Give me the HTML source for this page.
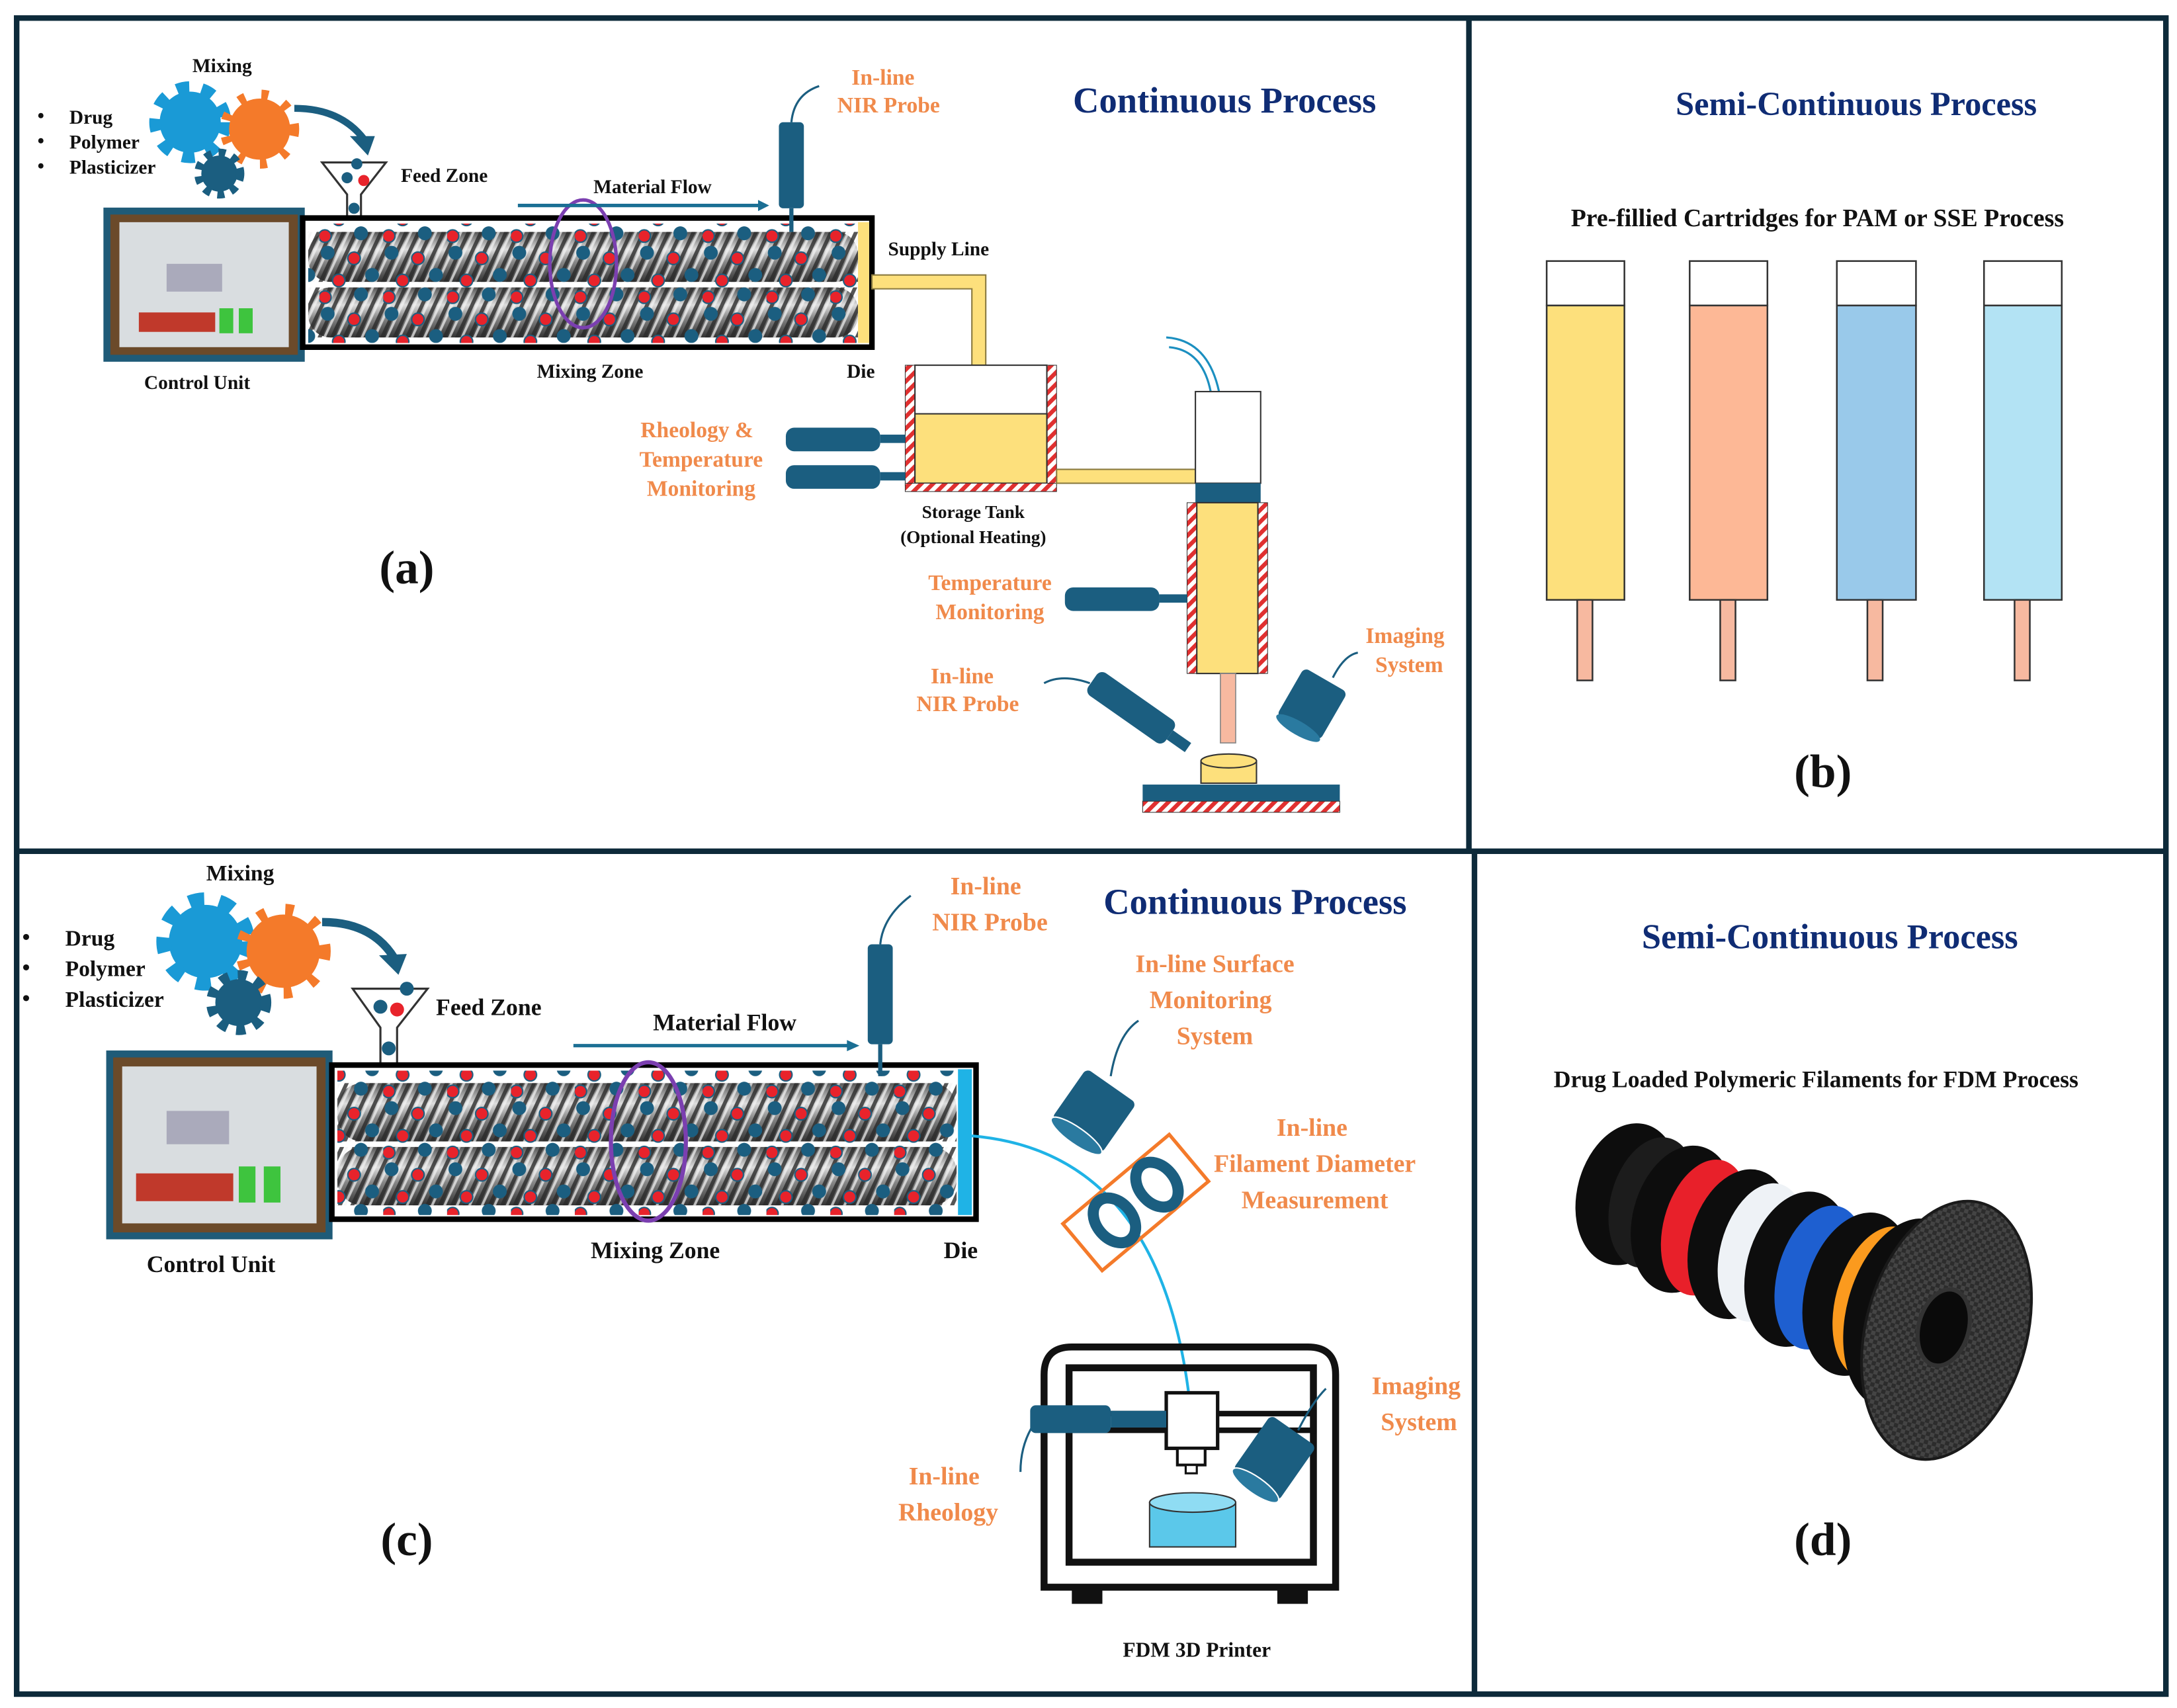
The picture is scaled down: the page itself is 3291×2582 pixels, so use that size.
<!DOCTYPE html>
<html><head><meta charset="utf-8"><style>
html,body{margin:0;padding:0;background:#fff;}
svg{display:block;}
text{font-family:"Liberation Serif",serif;font-weight:bold;}
.o{fill:#f08a4b;font-size:16px;text-anchor:middle;}
.k{fill:#111;font-size:14px;text-anchor:middle;}
.t{fill:#0f2c74;font-size:26px;text-anchor:middle;}
.L{fill:#111;font-size:34px;text-anchor:middle;}
</style></head><body>
<svg width="3291" height="2582" viewBox="0 0 1568 1230" preserveAspectRatio="none" xmlns="http://www.w3.org/2000/svg">
<defs>
<linearGradient id="shaft" x1="0" y1="0" x2="0" y2="1">
<stop offset="0" stop-color="#555"/><stop offset="0.35" stop-color="#ddd"/><stop offset="0.6" stop-color="#888"/><stop offset="1" stop-color="#333"/></linearGradient>
<pattern id="thread" width="9" height="40" patternUnits="userSpaceOnUse" patternTransform="skewX(-25)">
<rect width="9" height="40" fill="none"/><rect x="0" width="3" height="40" fill="#2b2b2b" opacity="0.8"/><rect x="4" width="2" height="40" fill="#f4f4f4" opacity="0.7"/></pattern>
<pattern id="dots" width="46" height="44" patternUnits="userSpaceOnUse">
<circle cx="6" cy="6" r="5" fill="#1b5e80"/><circle cx="25" cy="10" r="4.5" fill="#e8232b" stroke="#1b5e80" stroke-width="1"/>
<circle cx="38" cy="22" r="5" fill="#1b5e80"/><circle cx="14" cy="26" r="4.5" fill="#e8232b" stroke="#1b5e80" stroke-width="1"/>
<circle cx="30" cy="36" r="5" fill="#1b5e80"/><circle cx="4" cy="38" r="4.5" fill="#e8232b" stroke="#1b5e80" stroke-width="1"/></pattern>
<pattern id="hatch" width="6" height="6" patternUnits="userSpaceOnUse" patternTransform="rotate(45)">
<rect width="6" height="6" fill="#fff"/><rect width="3" height="6" fill="#e03030"/></pattern>
<pattern id="carbon" width="6" height="6" patternUnits="userSpaceOnUse">
<rect width="6" height="6" fill="#2c2c2c"/><rect width="3" height="3" fill="#444"/><rect x="3" y="3" width="3" height="3" fill="#444"/></pattern>
<g id="gearB"><circle r="22" fill="#1a9ad6"/><circle r="25" fill="none" stroke="#1a9ad6" stroke-width="9" stroke-dasharray="9 9"/></g>
<g id="gearO"><circle r="22" fill="#f47a2a"/><circle r="25" fill="none" stroke="#f47a2a" stroke-width="7" stroke-dasharray="5 12"/></g>
<g id="gearD"><circle r="13" fill="#1b5e80"/><circle r="15" fill="none" stroke="#1b5e80" stroke-width="6" stroke-dasharray="5 5"/></g>
</defs>
<rect width="1568" height="1230" fill="#fff"/>

<g fill="none" stroke="#0d2a3a" stroke-width="4">
<rect x="12" y="13" width="1548" height="1207"/>
<line x1="12" y1="613" x2="1560" y2="613"/>
<line x1="1058" y1="13" x2="1058" y2="613"/>
<line x1="1062" y1="613" x2="1062" y2="1220"/>
</g>

<!-- ============ PANEL A ============ -->
<text class="k" x="160" y="52">Mixing</text>
<g class="k" style="text-anchor:start;font-size:14px"><text x="27" y="88">•</text><text x="50" y="89">Drug</text><text x="27" y="106">•</text><text x="50" y="107">Polymer</text><text x="27" y="124">•</text><text x="50" y="125">Plasticizer</text></g>
<use href="#gearB" x="137" y="88"/><use href="#gearO" x="187" y="93"/><use href="#gearD" x="158" y="125"/>
<path d="M212 78 Q245 78 262 100" fill="none" stroke="#1b5e80" stroke-width="5"/><polygon points="252,98 270,98 265,112" fill="#1b5e80"/>
<path d="M232 117 L278 117 L260 140 L260 162 L250 162 L250 140 Z" fill="#fff" stroke="#333" stroke-width="1.5"/>
<circle cx="257" cy="118" r="4" fill="#1b5e80"/><circle cx="250" cy="128" r="4" fill="#1b5e80"/><circle cx="262" cy="130" r="4" fill="#e8232b"/><circle cx="255" cy="150" r="4" fill="#1b5e80"/>
<text class="k" x="320" y="131">Feed Zone</text>
<rect x="77" y="152" width="140" height="106" fill="#6b4a2a" stroke="#1f5b78" stroke-width="5"/>
<rect x="86" y="160" width="122" height="90" fill="#d9dde0"/>
<rect x="100" y="225" width="55" height="14" fill="#c0392b"/><rect x="158" y="222" width="10" height="18" fill="#3ec43e"/><rect x="172" y="222" width="10" height="18" fill="#3ec43e"/>
<rect x="120" y="190" width="40" height="20" fill="#aab"/>
<text class="k" x="142" y="280">Control Unit</text>
<rect x="218" y="157" width="410" height="93" fill="#fff" stroke="#000" stroke-width="4"/>
<rect x="222" y="167" width="396" height="36" rx="16" fill="url(#shaft)"/><rect x="222" y="167" width="396" height="36" fill="url(#thread)"/>
<rect x="222" y="207" width="396" height="36" rx="16" fill="url(#shaft)"/><rect x="222" y="207" width="396" height="36" fill="url(#thread)"/>
<rect x="222" y="161" width="396" height="86" fill="url(#dots)"/>
<rect x="618" y="160" width="8" height="87" fill="#fde07c"/>
<ellipse cx="420" cy="190" rx="24" ry="46" fill="none" stroke="#7b3fb0" stroke-width="2.5"/>
<text class="k" x="470" y="139">Material Flow</text>
<line x1="373" y1="148" x2="548" y2="148" stroke="#1b6f94" stroke-width="2.5"/><polygon points="546,144 554,148 546,152" fill="#1b6f94"/>
<rect x="561" y="88" width="18" height="62" rx="3" fill="#1b5e80"/><line x1="570" y1="150" x2="570" y2="167" stroke="#1b5e80" stroke-width="3"/>
<path d="M570 88 Q572 68 590 62" fill="none" stroke="#1b5e80" stroke-width="1.5"/>
<text class="o" x="636" y="61">In-line</text><text class="o" x="640" y="81">NIR Probe</text>
<text class="t" x="882" y="81">Continuous Process</text>
<text class="k" x="425" y="272">Mixing Zone</text><text class="k" x="620" y="272">Die</text><text class="k" x="676" y="184">Supply Line</text>
<path d="M628 198 H710 V265 H700 V208 H628 Z" fill="#fde07c" stroke="#8a7a40" stroke-width="1"/>
<rect x="652" y="263" width="7" height="87" fill="url(#hatch)" stroke="#333" stroke-width="0.5"/>
<rect x="754" y="263" width="7" height="87" fill="url(#hatch)" stroke="#333" stroke-width="0.5"/>
<rect x="659" y="263" width="95" height="85" fill="#fff" stroke="#333" stroke-width="1"/>
<rect x="659" y="298" width="95" height="50" fill="#fde07c" stroke="#333" stroke-width="1"/>
<rect x="652" y="348" width="109" height="6" fill="url(#hatch)" stroke="#333" stroke-width="0.5"/>
<rect x="566" y="308" width="68" height="17" rx="6" fill="#1b5e80"/><rect x="634" y="313" width="18" height="6" fill="#1b5e80"/>
<rect x="566" y="335" width="68" height="17" rx="6" fill="#1b5e80"/><rect x="634" y="340" width="18" height="6" fill="#1b5e80"/>
<text class="o" x="502" y="315">Rheology &amp;</text><text class="o" x="505" y="336">Temperature</text><text class="o" x="505" y="357">Monitoring</text>
<text class="k" x="701" y="373" style="font-size:13px">Storage Tank</text><text class="k" x="701" y="391" style="font-size:13px">(Optional Heating)</text>
<rect x="761" y="338" width="100" height="10" fill="#fde07c" stroke="#8a7a40" stroke-width="1"/>
<path d="M840 243 Q870 245 878 282 M842 250 Q866 252 872 282" fill="none" stroke="#1b8fc0" stroke-width="1.5"/>
<rect x="861" y="282" width="47" height="66" fill="#fff" stroke="#333" stroke-width="1"/>
<rect x="861" y="348" width="47" height="14" fill="#1b5e80"/>
<rect x="855" y="362" width="7" height="123" fill="url(#hatch)" stroke="#333" stroke-width="0.5"/>
<rect x="906" y="362" width="7" height="123" fill="url(#hatch)" stroke="#333" stroke-width="0.5"/>
<rect x="862" y="362" width="44" height="123" fill="#fde07c" stroke="#333" stroke-width="1"/>
<rect x="879" y="485" width="11" height="50" fill="#f7b9a0" stroke="#888" stroke-width="0.8"/>
<rect x="767" y="423" width="68" height="17" rx="6" fill="#1b5e80"/><rect x="835" y="428" width="20" height="6" fill="#1b5e80"/>
<text class="o" x="713" y="425">Temperature</text><text class="o" x="713" y="446">Monitoring</text>
<g transform="translate(818,512) rotate(35)"><rect x="-38" y="-10" width="68" height="20" rx="5" fill="#1b5e80"/><rect x="30" y="-4" width="16" height="8" fill="#1b5e80"/></g>
<path d="M785 492 Q765 485 752 492" fill="none" stroke="#1b5e80" stroke-width="1.5"/>
<text class="o" x="693" y="492">In-line</text><text class="o" x="697" y="512">NIR Probe</text>
<g transform="translate(945,507) rotate(-60)"><rect x="-20" y="-18" width="40" height="36" rx="4" fill="#1b5e80"/><ellipse cx="-20" cy="0" rx="5" ry="18" fill="#2a7aa0"/></g>
<path d="M960 488 Q968 472 978 470" fill="none" stroke="#1b5e80" stroke-width="1.5"/>
<text class="o" x="1012" y="463">Imaging</text><text class="o" x="1015" y="484">System</text>
<rect x="865" y="548" width="40" height="16" fill="#fde07c" stroke="#333" stroke-width="1"/><ellipse cx="885" cy="548" rx="20" ry="5" fill="#fde07c" stroke="#333" stroke-width="1"/>
<rect x="823" y="565" width="142" height="12" fill="#1b5e80"/>
<rect x="823" y="577" width="142" height="8" fill="url(#hatch)" stroke="#333" stroke-width="0.5"/>
<text class="L" x="293" y="420">(a)</text>

<!-- ============ PANEL B ============ -->
<text class="t" x="1337" y="83" style="font-size:24px">Semi-Continuous Process</text>
<text class="k" x="1309" y="163" style="font-size:18px">Pre-fillied Cartridges for PAM or SSE Process</text>
<g stroke="#333" stroke-width="1.2">
<rect x="1114" y="188" width="56" height="32" fill="#fff"/><rect x="1114" y="220" width="56" height="212" fill="#fde07c"/><rect x="1136" y="432" width="11" height="58" fill="#f7b9a0"/>
<rect x="1217" y="188" width="56" height="32" fill="#fff"/><rect x="1217" y="220" width="56" height="212" fill="#fdb896"/><rect x="1239" y="432" width="11" height="58" fill="#f7b9a0"/>
<rect x="1323" y="188" width="57" height="32" fill="#fff"/><rect x="1323" y="220" width="57" height="212" fill="#99c9ea"/><rect x="1345" y="432" width="11" height="58" fill="#f7b9a0"/>
<rect x="1429" y="188" width="56" height="32" fill="#fff"/><rect x="1429" y="220" width="56" height="212" fill="#b3e3f4"/><rect x="1451" y="432" width="11" height="58" fill="#f7b9a0"/>
</g>
<text class="L" x="1313" y="567">(b)</text>

<!-- ============ PANEL C ============ -->
<text class="k" x="173" y="634" style="font-size:16px">Mixing</text>
<g class="k" style="text-anchor:start;font-size:16px"><text x="16" y="680">•</text><text x="47" y="681">Drug</text><text x="16" y="702">•</text><text x="47" y="703">Polymer</text><text x="16" y="724">•</text><text x="47" y="725">Plasticizer</text></g>
<use href="#gearB" transform="translate(148,678) scale(1.2)"/><use href="#gearO" transform="translate(204,685) scale(1.2)"/><use href="#gearD" transform="translate(172,722) scale(1.3)"/>
<path d="M232 664 Q268 664 284 690" fill="none" stroke="#1b5e80" stroke-width="6"/><polygon points="273,688 293,687 287,702" fill="#1b5e80"/>
<path d="M254 712 L308 712 L286 740 L286 768 L274 768 L274 740 Z" fill="#fff" stroke="#333" stroke-width="1.5"/>
<circle cx="293" cy="712" r="5" fill="#1b5e80"/><circle cx="274" cy="725" r="5" fill="#1b5e80"/><circle cx="286" cy="727" r="5" fill="#e8232b"/><circle cx="280" cy="755" r="5" fill="#1b5e80"/>
<text class="k" x="352" y="731" style="font-size:17px">Feed Zone</text>
<rect x="79" y="759" width="158" height="131" fill="#6b4a2a" stroke="#1f5b78" stroke-width="5"/>
<rect x="88" y="768" width="140" height="113" fill="#d9dde0"/>
<rect x="98" y="845" width="70" height="20" fill="#c0392b"/><rect x="172" y="840" width="12" height="26" fill="#3ec43e"/><rect x="190" y="840" width="12" height="26" fill="#3ec43e"/>
<rect x="120" y="800" width="45" height="24" fill="#aab"/>
<text class="k" x="152" y="916" style="font-size:17px">Control Unit</text>
<rect x="239" y="767" width="464" height="111" fill="#fff" stroke="#000" stroke-width="4"/>
<rect x="243" y="780" width="446" height="42" rx="18" fill="url(#shaft)"/><rect x="243" y="780" width="446" height="42" fill="url(#thread)"/>
<rect x="243" y="826" width="446" height="42" rx="18" fill="url(#shaft)"/><rect x="243" y="826" width="446" height="42" fill="url(#thread)"/>
<rect x="243" y="771" width="446" height="104" fill="url(#dots)"/>
<rect x="690" y="770" width="10" height="105" fill="#1fb3e6"/>
<ellipse cx="467" cy="822" rx="27" ry="57" fill="none" stroke="#7b3fb0" stroke-width="3"/>
<text class="k" x="522" y="742" style="font-size:17px">Material Flow</text>
<line x1="413" y1="753" x2="612" y2="753" stroke="#1b6f94" stroke-width="2.5"/><polygon points="610,749 619,753 610,757" fill="#1b6f94"/>
<rect x="625" y="680" width="18" height="72" rx="3" fill="#1b5e80"/><line x1="634" y1="752" x2="634" y2="775" stroke="#1b5e80" stroke-width="3"/>
<path d="M634 680 Q636 660 656 645" fill="none" stroke="#1b5e80" stroke-width="1.5"/>
<text class="o" x="710" y="644" style="font-size:18px">In-line</text><text class="o" x="713" y="670" style="font-size:18px">NIR Probe</text>
<text class="t" x="904" y="658">Continuous Process</text>
<text class="k" x="472" y="906" style="font-size:17px">Mixing Zone</text><text class="k" x="692" y="906" style="font-size:17px">Die</text>
<g class="o" style="font-size:18px"><text x="875" y="700">In-line Surface</text><text x="872" y="726">Monitoring</text><text x="875" y="752">System</text>
<text x="945" y="818">In-line</text><text x="947" y="844">Filament Diameter</text><text x="947" y="870">Measurement</text>
<text x="680" y="1069">In-line</text><text x="683" y="1095">Rheology</text>
<text x="1020" y="1004">Imaging</text><text x="1022" y="1030">System</text></g>
<g transform="translate(788,800) rotate(-55)"><rect x="-22" y="-22" width="44" height="44" rx="4" fill="#1b5e80"/><ellipse cx="-22" cy="0" rx="6" ry="22" fill="#2a7aa0" stroke="#fff" stroke-width="1"/></g>
<path d="M800 775 Q805 745 820 735" fill="none" stroke="#1b5e80" stroke-width="1.5"/>
<path d="M700 818 Q840 830 858 1020" fill="none" stroke="#1fb3e6" stroke-width="2"/>
<g transform="translate(818,866) rotate(-40)"><rect x="-50" y="-22" width="100" height="44" fill="none" stroke="#f47a2a" stroke-width="2.5"/>
<ellipse cx="-20" cy="0" rx="13" ry="18" fill="none" stroke="#1b5e80" stroke-width="8"/><ellipse cx="20" cy="0" rx="13" ry="18" fill="none" stroke="#1b5e80" stroke-width="8"/></g>
<path d="M752 1143 V990 Q752 970 772 970 H942 Q962 970 962 990 V1143 Z" fill="none" stroke="#111" stroke-width="5"/>
<rect x="770" y="985" width="176" height="140" fill="none" stroke="#111" stroke-width="5"/>
<rect x="772" y="1145" width="22" height="10" fill="#111"/><rect x="920" y="1145" width="22" height="10" fill="#111"/>
<rect x="770" y="1018" width="176" height="12" fill="none" stroke="#111" stroke-width="4"/>
<rect x="840" y="1003" width="37" height="40" fill="#fff" stroke="#111" stroke-width="2.5"/>
<rect x="848" y="1043" width="20" height="12" fill="#fff" stroke="#111" stroke-width="2"/><rect x="854" y="1055" width="8" height="6" fill="#fff" stroke="#111" stroke-width="1.5"/>
<rect x="742" y="1012" width="58" height="20" rx="4" fill="#1b5e80"/><rect x="800" y="1016" width="40" height="12" fill="#1b5e80"/>
<path d="M745 1025 Q735 1040 735 1060" fill="none" stroke="#1b5e80" stroke-width="1.5"/>
<g transform="translate(918,1050) rotate(-55)"><rect x="-24" y="-20" width="48" height="40" rx="4" fill="#1b5e80"/><ellipse cx="-24" cy="0" rx="6" ry="20" fill="#2a7aa0" stroke="#fff" stroke-width="1"/></g>
<path d="M935 1030 Q945 1010 955 1000" fill="none" stroke="#1b5e80" stroke-width="1.5"/>
<rect x="828" y="1082" width="62" height="32" fill="#5bc8ea" stroke="#333" stroke-width="1"/><ellipse cx="859" cy="1082" rx="31" ry="7" fill="#8fdcf3" stroke="#333" stroke-width="1"/>
<text class="k" x="862" y="1193" style="font-size:15px">FDM 3D Printer</text>
<text class="L" x="293" y="1120">(c)</text>

<!-- ============ PANEL D ============ -->
<text class="t" x="1318" y="683" style="font-size:25px">Semi-Continuous Process</text>
<text class="k" x="1308" y="783" style="font-size:17px">Drug Loaded Polymeric Filaments for FDM Process</text>
<g>
<ellipse cx="1172" cy="860" rx="36" ry="52" transform="rotate(15 1172 860)" fill="#0d0d0d"/>
<ellipse cx="1190" cy="866" rx="30" ry="48" transform="rotate(15 1190 866)" fill="#1c1c1c"/>
<ellipse cx="1212" cy="878" rx="36" ry="54" transform="rotate(15 1212 878)" fill="#0d0d0d"/>
<ellipse cx="1228" cy="884" rx="30" ry="50" transform="rotate(15 1228 884)" fill="#e8202a"/>
<ellipse cx="1253" cy="896" rx="36" ry="55" transform="rotate(15 1253 896)" fill="#0d0d0d"/>
<ellipse cx="1269" cy="902" rx="30" ry="51" transform="rotate(15 1269 902)" fill="#eef2f6"/>
<ellipse cx="1295" cy="914" rx="37" ry="57" transform="rotate(15 1295 914)" fill="#0d0d0d"/>
<ellipse cx="1311" cy="920" rx="31" ry="53" transform="rotate(15 1311 920)" fill="#1e5fd0"/>
<ellipse cx="1338" cy="932" rx="38" ry="60" transform="rotate(15 1338 932)" fill="#0d0d0d"/>
<ellipse cx="1354" cy="938" rx="32" ry="56" transform="rotate(15 1354 938)" fill="#fb9a1e"/>
<ellipse cx="1372" cy="946" rx="42" ry="70" transform="rotate(15 1372 946)" fill="#0d0d0d"/>
<ellipse cx="1386" cy="952" rx="38" ry="66" transform="rotate(15 1386 952)" fill="#15a45a"/>
<ellipse cx="1402" cy="958" rx="58" ry="95" transform="rotate(15 1402 958)" fill="url(#carbon)" stroke="#1a1a1a" stroke-width="2"/>
<ellipse cx="1400" cy="956" rx="18" ry="28" transform="rotate(15 1400 956)" fill="#0a0a0a" stroke="#333" stroke-width="3"/>
</g>
<text class="L" x="1313" y="1120">(d)</text>
</svg>
</body></html>
